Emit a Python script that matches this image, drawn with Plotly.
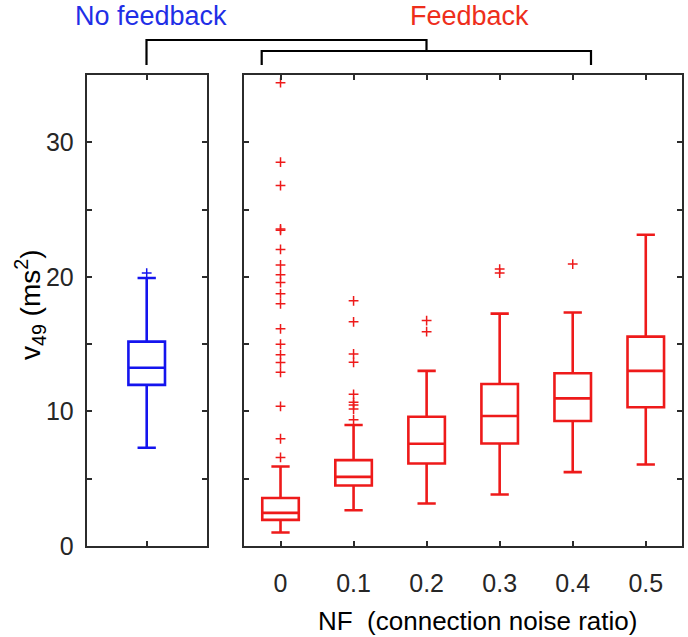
import plotly.graph_objects as go

# figure size (px)
W, H = 688, 637

# no feedback group
nf_q1, nf_med, nf_q3 = 11.97, 13.25, 15.19
nf_lo, nf_hi = 7.30, 19.91
nf_out = [20.28]

# feedback groups, NF = 0 .. 0.5
noise = [0, 0.1, 0.2, 0.3, 0.4, 0.5]
fb_q1 = [1.94, 4.50, 6.13, 7.62, 9.29, 10.31]
fb_med = [2.46, 5.14, 7.60, 9.66, 10.97, 13.01]
fb_q3 = [3.57, 6.38, 9.61, 12.04, 12.84, 15.56]
fb_lo = [1.00, 2.66, 3.16, 3.83, 5.49, 6.06]
fb_hi = [5.91, 8.99, 13.01, 17.27, 17.35, 23.13]
fb_out = [
    [34.43, 28.52, 26.78, 23.56, 23.46, 22.04, 20.88, 20.16, 19.58, 18.74,
     18.0, 16.14, 15.0, 14.22, 13.63, 12.91, 10.38, 7.97, 6.58],
    [18.22, 16.66, 14.27, 13.65, 11.27, 10.68, 10.48, 10.18, 9.38],
    [16.75, 15.93],
    [20.58, 20.28],
    [20.95],
    [],
]

ytick_vals = [0, 10, 20, 30]

BLUE = '#1414ee'
RED = '#ee1a1a'
FONT = 'Liberation Sans, Arial, sans-serif'
AXC = '#2b2b2b'

fig = go.Figure()

fig.add_trace(go.Box(
    x=[0], q1=[nf_q1], median=[nf_med], q3=[nf_q3],
    lowerfence=[nf_lo], upperfence=[nf_hi],
    width=0.05, whiskerwidth=0.5, fillcolor='rgba(0,0,0,0)',
    line=dict(color=BLUE, width=2.6), xaxis='x', yaxis='y',
    showlegend=False, hoverinfo='skip'))
fig.add_trace(go.Scatter(
    x=[0] * len(nf_out), y=nf_out, mode='markers', xaxis='x', yaxis='y',
    marker=dict(symbol='cross-thin', size=7, line=dict(color=BLUE, width=1.5)),
    showlegend=False, hoverinfo='skip'))

fig.add_trace(go.Box(
    x=noise, q1=fb_q1, median=fb_med, q3=fb_q3,
    lowerfence=fb_lo, upperfence=fb_hi,
    width=0.05, whiskerwidth=0.5, fillcolor='rgba(0,0,0,0)',
    line=dict(color=RED, width=2.6), xaxis='x2', yaxis='y2',
    showlegend=False, hoverinfo='skip'))
ox, oy = [], []
for n, outs in zip(noise, fb_out):
    for v in outs:
        ox.append(n)
        oy.append(v)
fig.add_trace(go.Scatter(
    x=ox, y=oy, mode='markers', xaxis='x2', yaxis='y2',
    marker=dict(symbol='cross-thin', size=7, line=dict(color=RED, width=1.5)),
    showlegend=False, hoverinfo='skip'))

ax_common = dict(showline=True, linewidth=2, linecolor=AXC, mirror='ticks',
                 ticks='inside', ticklen=5, tickwidth=1.5, tickcolor=AXC,
                 showgrid=False, zeroline=False, automargin=False,
                 tickfont=dict(family=FONT, size=25, color='#262626'))
y_minor = dict(dtick=5, tick0=0, ticks='inside', ticklen=5, tickwidth=1.5,
               tickcolor=AXC, showgrid=False)

L0, L1 = 86.7 / W, 206.7 / W
R0, R1 = 244 / W, 682.3 / W
B, T = 1 - 546 / H, 1 - 75 / H

fig.update_layout(
    template='none',
    width=W, height=H,
    margin=dict(l=0, r=0, t=0, b=0),
    plot_bgcolor='white', paper_bgcolor='white',
    xaxis=dict(domain=[L0, L1], range=[-0.082, 0.082], tickvals=[0],
               showticklabels=False, **ax_common),
    yaxis=dict(domain=[B, T], range=[0, 35], tickvals=ytick_vals,
               minor=y_minor, ticklabelstandoff=6, **ax_common),
    xaxis2=dict(domain=[R0, R1], range=[-0.05, 0.55], tickvals=noise,
                ticktext=[str(n) for n in noise], anchor='y2',
                ticklabelstandoff=14, **ax_common),
    yaxis2=dict(domain=[B, T], range=[0, 35], tickvals=ytick_vals,
                minor=y_minor, showticklabels=False, anchor='x2', **ax_common),
)

ann = dict(xref='paper', yref='paper', showarrow=False,
           xanchor='center', yanchor='middle')

# axis titles
fig.add_annotation(x=30 / W, y=1 - 305 / H, text='v<sub>49</sub> (ms<sup>2</sup>)',
                   textangle=-90, font=dict(family=FONT, size=28, color='black'),
                   **ann)
fig.add_annotation(x=477 / W, y=1 - 621 / H, text='NF  (connection noise ratio)',
                   font=dict(family=FONT, size=26, color='black'), **ann)

# group labels
fig.add_annotation(x=151 / W, y=1 - 16 / H, text='No feedback',
                   font=dict(family=FONT, size=27, color='#1f2fe6'), **ann)
fig.add_annotation(x=469 / W, y=1 - 16 / H, text='Feedback',
                   font=dict(family=FONT, size=27, color='#ee2e1b'), **ann)

# brackets linking the groups
br = dict(type='path', xref='paper', yref='paper',
          line=dict(color='black', width=2.2))
fig.add_shape(path='M {} {} L {} {} L {} {} L {} {}'.format(
    146.5 / W, 1 - 65 / H, 146.5 / W, 1 - 40 / H,
    426.5 / W, 1 - 40 / H, 426.5 / W, 1 - 51 / H), **br)
fig.add_shape(path='M {} {} L {} {} L {} {} L {} {}'.format(
    261.7 / W, 1 - 65 / H, 261.7 / W, 1 - 51 / H,
    591 / W, 1 - 51 / H, 591 / W, 1 - 65 / H), **br)

fig.write_html("out.html", config={'displayModeBar': False},
               post_script="document.body.style.margin='0';")
